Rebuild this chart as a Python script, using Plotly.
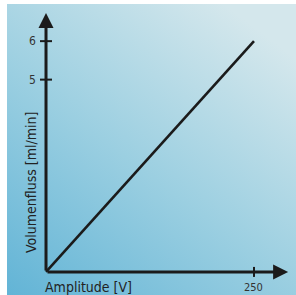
import base64
import plotly.graph_objects as go

# ---- data ----
amplitude = [0, 250]          # V
volumenfluss = [0, 6]         # ml/min
x_ticks = [250]
x_tick_labels = ["250"]
y_ticks = [5, 6]
y_tick_labels = ["5", "6"]
x_title = "Amplitude [V]"
y_title = "Volumenfluss [ml/min]"

W, H = 296, 295
FONT = "Liberation Sans Narrow, DejaVu Sans Condensed, sans-serif"
INK = "#1b1b1b"

# axis ranges chosen so the whole figure is the plot area
x_range = [-55.3, 300.5]
y_range = [-0.60, 7.07]
x_axis_end = 291
y_axis_end = 6.73

# background gradient as an svg image
svg = (
    '<svg xmlns="http://www.w3.org/2000/svg" width="289" height="291" preserveAspectRatio="none">'
    '<defs><linearGradient id="g" x1="0" y1="1" x2="0.75" y2="0">'
    '<stop offset="0" stop-color="#62b4d6"/>'
    '<stop offset="0.5" stop-color="#9bcfe1"/>'
    '<stop offset="1" stop-color="#d4e7ec"/>'
    '</linearGradient></defs>'
    '<rect width="289" height="291" fill="url(#g)"/></svg>'
)
src = "data:image/svg+xml;base64," + base64.b64encode(svg.encode()).decode()

fig = go.Figure()
fig.add_trace(go.Scatter(
    x=amplitude, y=volumenfluss, mode="lines",
    line=dict(color=INK, width=2.6), hoverinfo="skip", showlegend=False,
))

fig.add_layout_image(dict(
    source=src, xref="paper", yref="paper",
    x=7 / W, y=1 - 4 / H, sizex=289 / W, sizey=291 / H,
    sizing="stretch", xanchor="left", yanchor="top", layer="below",
))

shapes = []
annotations = []
# axes with arrows
annotations.append(dict(x=x_axis_end, y=0, ax=0, ay=0, xref="x", yref="y",
                        axref="x", ayref="y", showarrow=True, arrowhead=2,
                        arrowsize=1.0, arrowwidth=3, arrowcolor=INK, text=""))
annotations.append(dict(x=0, y=y_axis_end, ax=0, ay=0, xref="x", yref="y",
                        axref="x", ayref="y", showarrow=True, arrowhead=2,
                        arrowsize=1.0, arrowwidth=3, arrowcolor=INK, text=""))
# y ticks
for v, lab in zip(y_ticks, y_tick_labels):
    shapes.append(dict(type="line", xref="x", yref="y", xsizemode="pixel",
                       xanchor=0, x0=-6, x1=6, y0=v, y1=v,
                       line=dict(color=INK, width=2)))
    annotations.append(dict(x=0, y=v, xref="x", yref="y", text=lab,
                            showarrow=False, xshift=-14, xanchor="center",
                            yanchor="middle",
                            font=dict(family=FONT, size=12, color="#333333")))
# x ticks
for v, lab in zip(x_ticks, x_tick_labels):
    shapes.append(dict(type="line", xref="x", yref="y", ysizemode="pixel",
                       yanchor=0, y0=-5, y1=5, x0=v, x1=v,
                       line=dict(color=INK, width=2)))
    annotations.append(dict(x=v, y=0, xref="x", yref="y", text=lab,
                            showarrow=False, yshift=-16, xanchor="center",
                            yanchor="middle",
                            font=dict(family=FONT, size=11, color="#333333")))
# titles
annotations.append(dict(x=31 / W, y=1 - 183 / H, xref="paper", yref="paper",
                        text=y_title, textangle=-90, showarrow=False,
                        xanchor="center", yanchor="middle",
                        font=dict(family=FONT, size=14, color="#222222")))
annotations.append(dict(x=88 / W, y=1 - 277 / H, xref="paper", yref="paper",
                        text=x_title, showarrow=False, yanchor="top",
                        xanchor="center",
                        font=dict(family=FONT, size=14, color="#222222")))

fig.update_layout(
    width=W, height=H, margin=dict(l=0, r=0, t=0, b=0),
    paper_bgcolor="white", plot_bgcolor="rgba(0,0,0,0)",
    xaxis=dict(range=x_range, visible=False, fixedrange=True),
    yaxis=dict(range=y_range, visible=False, fixedrange=True),
    shapes=shapes, annotations=annotations, showlegend=False,
)
fig.write_html(
    "out.html",
    config={"displayModeBar": False},
    post_script="document.body.style.margin='0';document.body.style.padding='0';"
                "document.body.style.overflow='hidden';",
)
